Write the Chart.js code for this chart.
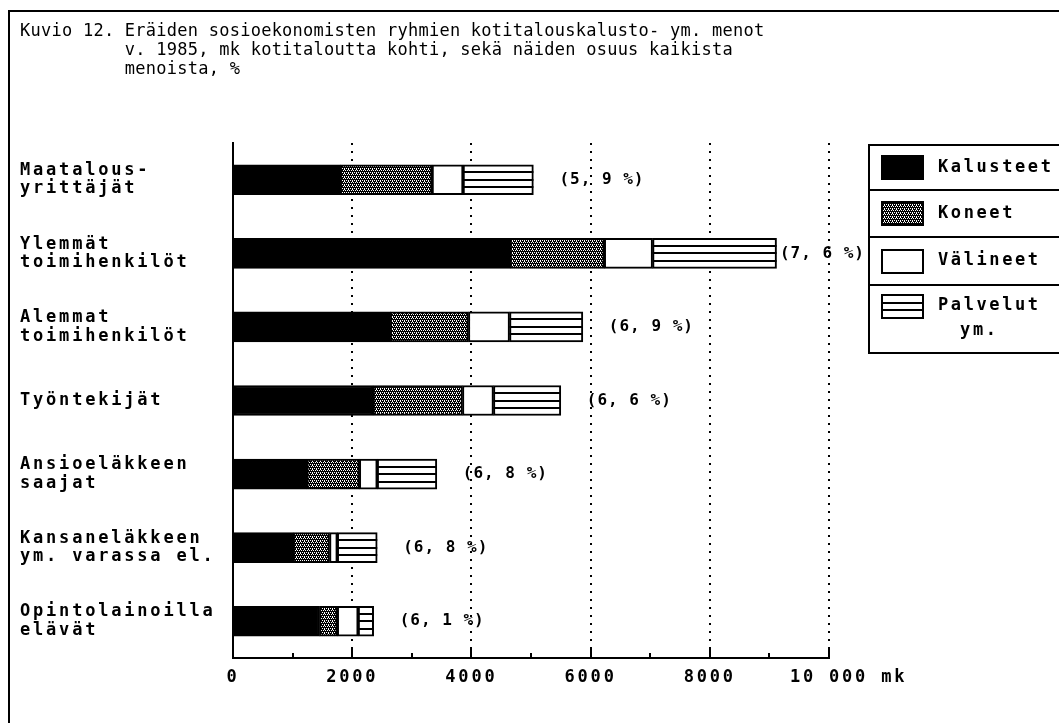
<!DOCTYPE html>
<html>
<head>
<meta charset="utf-8">
<script src="https://cdn.jsdelivr.net/npm/chart.js@4.4.1/dist/chart.umd.min.js"></script>
<style>
  html, body { margin: 0; padding: 0; background: #fff; }
  canvas { display: block; }
</style>
</head>
<body>
<canvas id="chart" width="1059" height="723"></canvas>
<script>
// values (mk per household, 1985)
const groups = [
  ["Maatalous-", "yrittäjät"],
  ["Ylemmät", "toimihenkilöt"],
  ["Alemmat", "toimihenkilöt"],
  ["Työntekijät"],
  ["Ansioeläkkeen", "saajat"],
  ["Kansaneläkkeen", "ym. varassa el."],
  ["Opintolainoilla", "elävät"]
];
const kalusteet = [1800, 4650, 2640, 2350, 1240, 1010, 1450];
const koneet    = [1540, 1580, 1310, 1500,  880,  610,  300];
const valineet  = [ 520,  810,  690,  520,  300,  130,  350];
const palvelut  = [1180, 2080, 1230, 1130, 1000,  670,  260];
const shares    = [5.9, 7.6, 6.9, 6.6, 6.8, 6.8, 6.1];
const xLabelTicks = [0, 2000, 4000, 6000, 8000, 10000];
const seriesNames = ["Kalusteet", "Koneet", "Välineet", "Palvelut ym."];

const titleHead = "Kuvio 12.";
const titleLines = [
  "Eräiden sosioekonomisten ryhmien kotitalouskalusto- ym. menot",
  "v. 1985, mk kotitaloutta kohti, sekä näiden osuus kaikista",
  "menoista, %"
];

const MONO = '"DejaVu Sans Mono", "Liberation Mono", monospace';

// stipple for "Koneet"
function stipple() {
  const c = document.createElement("canvas");
  c.width = 4; c.height = 4;
  const g = c.getContext("2d");
  g.fillStyle = "#000"; g.fillRect(0, 0, 4, 4);
  g.fillStyle = "#fff";
  [[0, 0], [2, 0], [1, 2], [3, 2], [0, 1]].forEach(([a, b]) => g.fillRect(a, b, 1, 1));
  return g.createPattern(c, "repeat");
}
const dots = stipple();

function fmtTick(v) {
  if (v >= 10000) return "   " + String(v).replace(/\B(?=(\d{3})+$)/g, " ") + " mk";
  return String(v);
}

const decor = {
  id: "decor",
  beforeUpdate(chart) { chart.ctx.letterSpacing = "2.8px"; },
  beforeDraw(chart) {
    const ctx = chart.ctx;
    ctx.letterSpacing = "2.8px";
    // outer frame
    ctx.save();
    ctx.strokeStyle = "#000";
    ctx.lineWidth = 2;
    ctx.beginPath();
    ctx.moveTo(9, 723);
    ctx.lineTo(9, 11);
    ctx.lineTo(1059, 11);
    ctx.stroke();
    ctx.restore();
  },
  afterDatasetsDraw(chart) {
    const ctx = chart.ctx;
    // horizontal lines inside "Palvelut" bars
    const meta = chart.getDatasetMeta(3);
    ctx.save();
    ctx.strokeStyle = "#000";
    ctx.lineWidth = 2;
    meta.data.forEach(bar => {
      const p = bar.getProps(["x", "y", "base", "height"], true);
      const top = p.y - p.height / 2;
      for (let k = 1; k <= 3; k++) {
        const yy = Math.round(top + k * p.height / 4);
        ctx.beginPath();
        ctx.moveTo(p.base, yy);
        ctx.lineTo(p.x, yy);
        ctx.stroke();
      }
    });
    ctx.restore();

    // share labels at bar ends
    ctx.save();
    ctx.font = "bold 16px " + MONO;
    ctx.letterSpacing = "1px";
    ctx.fillStyle = "#000";
    ctx.textBaseline = "middle";
    ctx.textAlign = "left";
    meta.data.forEach((bar, i) => {
      const txt = "(" + shares[i].toFixed(1).replace(".", ", ") + " %)";
      const w = ctx.measureText(txt).width;
      const x = Math.min(bar.x + 26, 869 - w - 4);
      ctx.fillText(txt, x, bar.y);
    });
    ctx.restore();
  },
  afterDraw(chart) {
    const ctx = chart.ctx;
    const xs = chart.scales.x;
    const area = chart.chartArea;
    // inward tick marks on the x axis
    ctx.save();
    ctx.strokeStyle = "#000";
    ctx.lineWidth = 2;
    xs.ticks.forEach(t => {
      if (t.value === 0) return;
      const px = Math.round(xs.getPixelForValue(t.value));
      const len = xLabelTicks.includes(t.value) ? 9 : 5;
      ctx.beginPath();
      ctx.moveTo(px, area.bottom);
      ctx.lineTo(px, area.bottom - len);
      ctx.stroke();
    });
    ctx.restore();

    // title
    ctx.save();
    ctx.font = "17px " + MONO;
    ctx.letterSpacing = "0.25px";
    ctx.fillStyle = "#000";
    ctx.textBaseline = "middle";
    ctx.textAlign = "left";
    const indent = ctx.measureText(titleHead + " ").width;
    ctx.fillText(titleHead, 20, 32);
    titleLines.forEach((l, i) => ctx.fillText(l, 20 + indent, 32 + i * 19));
    ctx.restore();

    // legend box
    const L = 869;
    const rows = [[145, 190], [190, 237], [237, 285], [285, 353]];
    ctx.save();
    ctx.strokeStyle = "#000";
    ctx.lineWidth = 2;
    ctx.strokeRect(L, rows[0][0], 1059 - L + 4, rows[3][1] - rows[0][0]);
    for (let i = 1; i < rows.length; i++) {
      ctx.beginPath();
      ctx.moveTo(L, rows[i][0]);
      ctx.lineTo(1059, rows[i][0]);
      ctx.stroke();
    }
    ctx.font = "bold 17px " + MONO;
    ctx.letterSpacing = "2.6px";
    ctx.textBaseline = "middle";
    chart.data.datasets.forEach((ds, i) => {
      const cy = i < 3 ? (rows[i][0] + rows[i][1]) / 2 : rows[i][0] + 21;
      const sx = 882, sw = 41, sh = 23;
      const sy = Math.round(cy - sh / 2);
      ctx.fillStyle = ds.backgroundColor;
      ctx.fillRect(sx, sy, sw, sh);
      ctx.strokeRect(sx, sy, sw, sh);
      if (i === 3) {
        for (let k = 1; k <= 2; k++) {
          const yy = Math.round(sy + k * sh / 3);
          ctx.beginPath();
          ctx.moveTo(sx, yy);
          ctx.lineTo(sx + sw, yy);
          ctx.stroke();
        }
      }
      ctx.fillStyle = "#000";
      const parts = ds.label.split(" ");
      ctx.textAlign = "left";
      ctx.fillText(parts[0], 938, cy);
      if (parts[1]) {
        const w0 = ctx.measureText(parts[0]).width;
        ctx.textAlign = "center";
        ctx.fillText(parts[1], 938 + w0 / 2 - 10, cy + 25);
      }
    });
    ctx.restore();
  }
};

const barBase = { borderColor: "#000", borderWidth: 2, borderSkipped: false, barThickness: 30 };

new Chart(document.getElementById("chart"), {
  type: "bar",
  data: {
    labels: groups,
    datasets: [
      Object.assign({ label: seriesNames[0], data: kalusteet, backgroundColor: "#000" }, barBase),
      Object.assign({ label: seriesNames[1], data: koneet, backgroundColor: dots }, barBase),
      Object.assign({ label: seriesNames[2], data: valineet, backgroundColor: "#fff" }, barBase),
      Object.assign({ label: seriesNames[3], data: palvelut, backgroundColor: "#fff" }, barBase)
    ]
  },
  options: {
    indexAxis: "y",
    responsive: false,
    animation: false,
    events: [],
    layout: { padding: { left: 20, top: 143, right: 230, bottom: 0 } },
    plugins: { legend: { display: false }, title: { display: false }, tooltip: { enabled: false } },
    scales: {
      x: {
        stacked: true,
        min: 0,
        max: 10000,
        afterFit: s => { s.height = 65; },
        ticks: {
          stepSize: 1000,
          autoSkip: false,
          maxRotation: 0,
          padding: 9,
          color: "#000",
          font: { family: MONO, size: 17, weight: "bold" },
          callback: v => xLabelTicks.includes(v) ? fmtTick(v) : ""
        },
        grid: {
          drawTicks: false,
          lineWidth: 2,
          color: c => (c.tick && c.tick.value > 0 && xLabelTicks.includes(c.tick.value)) ? "#000" : "rgba(0,0,0,0)"
        },
        border: { display: true, color: "#000", width: 2, dash: [2, 6] }
      },
      y: {
        stacked: true,
        afterFit: s => { s.width = 213; },
        ticks: {
          crossAlign: "far",
          color: "#000",
          font: { family: MONO, size: 17, weight: "bold", lineHeight: 1.08 }
        },
        grid: { display: false, drawTicks: false },
        border: { display: true, color: "#000", width: 2 }
      }
    }
  },
  plugins: [decor]
});
</script>
</body>
</html>
